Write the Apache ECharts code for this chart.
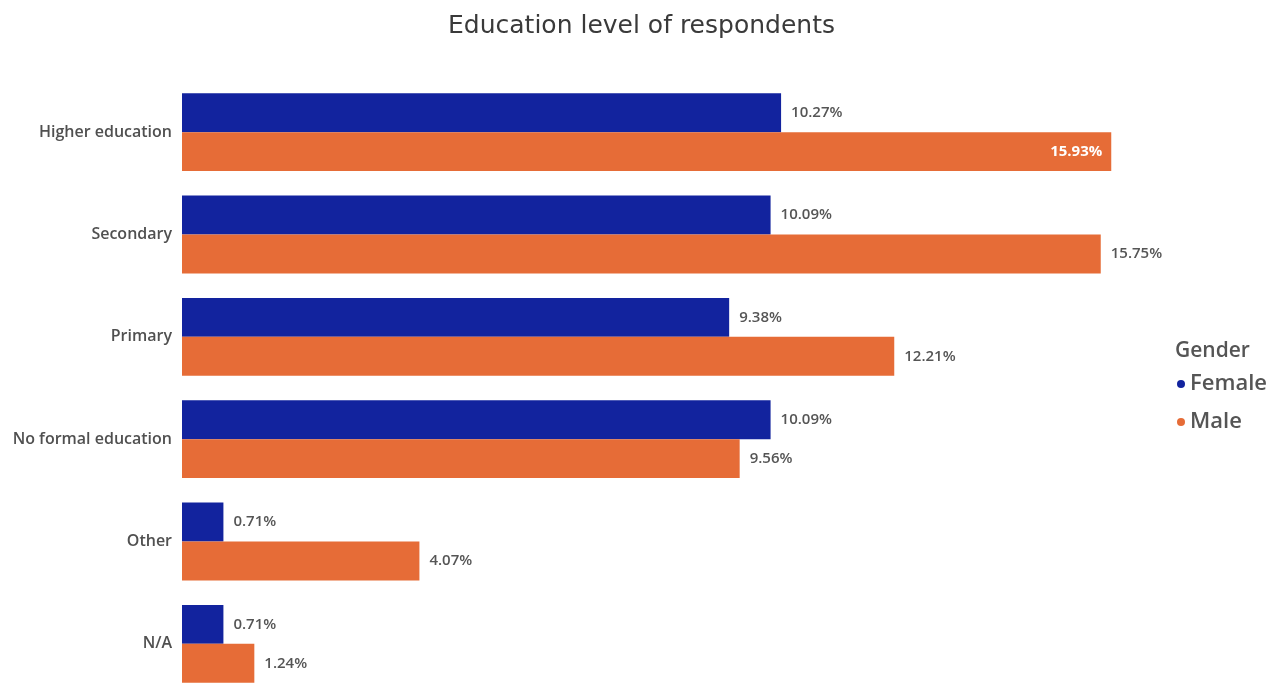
<!DOCTYPE html>
<html>
<head>
<meta charset="utf-8">
<script src="https://cdn.jsdelivr.net/npm/echarts@6/dist/echarts.min.js"></script>
<style>html,body{margin:0;padding:0;background:#fff;}#c{width:1283px;height:685px;}</style>
</head>
<body>
<div id="c"></div>
<script>
const categories = ["Higher education", "Secondary", "Primary", "No formal education", "Other", "N/A"];
const female = [10.27, 10.09, 9.38, 10.09, 0.71, 0.71];
const male = [15.93, 15.75, 12.21, 9.56, 4.07, 1.24];
const seriesNames = ["Female", "Male"];
const legendTitle = "Gender";
const chartTitle = "Education level of respondents";

const FONT = "'Open Sans', 'Noto Sans', sans-serif";
const fmt = p => p.value.toFixed(2) + '%';
const maleMax = Math.max(...male);

const chart = echarts.init(document.getElementById('c'));
chart.setOption({
  backgroundColor: '#fff',
  animation: false,
  title: [{
    text: chartTitle,
    left: 'center', top: 9,
    textStyle: { fontFamily: "'DejaVu Sans', sans-serif", fontSize: 25, fontWeight: 'normal', color: '#3a3a3a' }
  }, {
    text: legendTitle,
    left: 1170, top: 336,
    textStyle: { fontFamily: FONT, fontSize: 21, fontWeight: 600, color: '#555' }
  }],
  legend: {
    orient: 'vertical', left: 1177, top: 373, itemGap: 16, padding: 0,
    icon: 'circle', itemWidth: 8, itemHeight: 8,
    textStyle: { fontFamily: FONT, fontSize: 22, fontWeight: 600, color: '#555' },
    data: seriesNames
  },
  grid: { left: 182, top: 81, width: 1050, height: 614, containLabel: false, outerBoundsMode: 'none' },
  xAxis: { type: 'value', min: 0, max: 18, show: false },
  yAxis: {
    type: 'category', data: categories, inverse: true,
    axisLine: { show: false }, axisTick: { show: false },
    axisLabel: { fontFamily: FONT, fontSize: 16, fontWeight: 600, color: '#505050', margin: 10 }
  },
  series: [{
    name: seriesNames[0], type: 'bar', data: female,
    barGap: '0%', barCategoryGap: '24%',
    itemStyle: { color: '#12239E' },
    label: { show: true, position: 'right', distance: 10, formatter: fmt,
      fontFamily: FONT, fontSize: 15, fontWeight: 600, color: '#555' }
  }, {
    name: seriesNames[1], type: 'bar',
    data: male.map(v => v === maleMax
      ? { value: v, label: { position: 'insideRight', color: '#fff', fontWeight: 'bold', distance: 9 } }
      : v),
    barGap: '0%', barCategoryGap: '24%',
    itemStyle: { color: '#E66C37' },
    label: { show: true, position: 'right', distance: 10, formatter: fmt,
      fontFamily: FONT, fontSize: 15, fontWeight: 600, color: '#555' }
  }]
});
</script>
</body>
</html>
